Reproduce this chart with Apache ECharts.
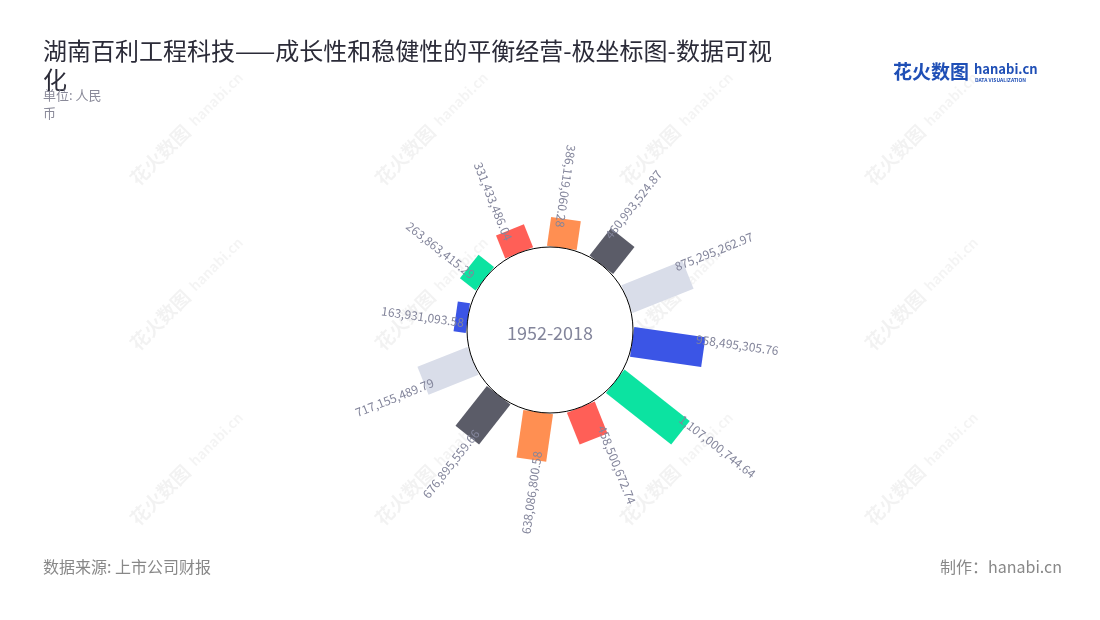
<!DOCTYPE html>
<html>
<head>
<meta charset="utf-8">
<script src="https://cdn.jsdelivr.net/npm/echarts@6/dist/echarts.min.js"></script>
<style>
html,body{margin:0;padding:0;background:#fff;}
#main{width:1100px;height:620px;}
</style>
</head>
<body>
<div id="main"></div>
<script>
// ---- data (counter-clockwise order, first bar upper right) ----
var categories = ['1','2','3','4','5','6','7','8','9','10','11','12'];
var values = [875295262.97, 460993524.87, 386119060.28, 331433486.04, 263863415.29, 163931093.58,
              717155489.79, 676895559.66, 638086800.58, 458500672.74, 1107000744.64, 958495305.76];
var palette = ['#d9dde9', '#5b5c68', '#ff8f52', '#ff5f57', '#0ce3a1', '#3b55e6'];
var titleText = '湖南百利工程科技——成长性和稳健性的平衡经营-极坐标图-数据可视化';
var unitText = '单位: 人民币';
var centerText = '1952-2018';
var sourceText = '数据来源: 上市公司财报';
var makerText = '制作：hanabi.cn';

var FONT = '"Noto Sans CJK SC", "Noto Sans", sans-serif';
var LABEL_COLOR = '#83859b';

function fmt(v) {
  return v.toLocaleString('en-US', {minimumFractionDigits: 2, maximumFractionDigits: 2});
}

var seriesData = values.map(function (v, i) { return [v, i]; });

function renderItem(params, api) {
  var i = api.value(1);
  var v = api.value(0);
  var p0 = api.coord([0, i]);
  var p1 = api.coord([v, i]);
  var dx = p1[0] - p0[0], dy = p1[1] - p0[1];
  var len = Math.sqrt(dx * dx + dy * dy) || 1;
  var ux = dx / len, uy = dy / len;
  var nx = uy, ny = -ux; // counter-clockwise normal on screen
  var hw = 15;
  var pts = [
    [p0[0] + nx * hw, p0[1] + ny * hw],
    [p1[0] + nx * hw, p1[1] + ny * hw],
    [p1[0] - nx * hw, p1[1] - ny * hw],
    [p0[0] - nx * hw, p0[1] - ny * hw]
  ];
  var theta = Math.atan2(-uy, ux);
  var deg = theta * 180 / Math.PI;
  if (deg < 0) deg += 360;
  var flip = deg > 60 && deg < 270;
  var off = flip ? 5 : 12;
  var ax = p1[0] - ux * 9 + nx * off;
  var ay = p1[1] - uy * 9 + ny * off;
  return {
    type: 'group',
    children: [
      {
        type: 'polygon',
        shape: {points: pts},
        style: {fill: palette[i % palette.length]}
      },
      {
        type: 'text',
        x: ax, y: ay,
        rotation: flip ? theta - Math.PI : theta,
        style: {
          text: fmt(v),
          fill: LABEL_COLOR,
          font: '12px ' + FONT,
          align: flip ? 'right' : 'left',
          verticalAlign: 'middle'
        },
        z2: 10
      }
    ]
  };
}

// watermark
var wm = [];
var wmX = [160, 405, 650, 895];
var wmY = [155, 320, 495];
wmY.forEach(function (y) {
  wmX.forEach(function (x) {
    wm.push({
      type: 'text', x: x, y: y, rotation: Math.PI / 4, z: 0, silent: true,
      style: {text: '花火数图', fill: 'rgba(0,0,0,0.05)', font: 'bold 19px ' + FONT,
              align: 'center', verticalAlign: 'middle'}
    });
    wm.push({
      type: 'text', x: x + 56, y: y - 56, rotation: Math.PI / 4, z: 0, silent: true,
      style: {text: 'hanabi.cn', fill: 'rgba(0,0,0,0.045)', font: 'bold 14px ' + FONT,
              align: 'center', verticalAlign: 'middle'}
    });
  });
});

var chart = echarts.init(document.getElementById('main'));
chart.setOption({
  backgroundColor: '#fff',
  animation: false,
  title: [
    {
      text: titleText,
      left: 43, top: 36, padding: 0,
      textStyle: {fontFamily: FONT, fontSize: 24, fontWeight: 'normal', color: '#2b2b38',
                  width: 745, overflow: 'break', lineHeight: 29}
    },
    {
      text: unitText,
      left: 43, top: 86, padding: 0,
      textStyle: {fontFamily: FONT, fontSize: 13, fontWeight: 'normal', color: '#8a8a99',
                  width: 68, overflow: 'break', lineHeight: 18}
    }
  ],
  polar: {center: ['50%', 330], radius: [83, 173]},
  angleAxis: {type: 'category', data: categories, startAngle: 6.8, clockwise: false, show: false},
  radiusAxis: {type: 'value', min: 0, max: 1200000000, show: false},
  series: [{
    type: 'custom',
    coordinateSystem: 'polar',
    renderItem: renderItem,
    data: seriesData,
    z: 2
  }],
  graphic: wm.concat([
    {
      type: 'circle', shape: {cx: 550, cy: 330, r: 83}, z: 50,
      style: {fill: '#fff', stroke: '#000', lineWidth: 1}
    },
    {
      type: 'text', x: 550, y: 333, z: 51,
      style: {text: centerText, fill: LABEL_COLOR, font: '18px ' + FONT, align: 'center', verticalAlign: 'middle'}
    },
    {
      type: 'text', x: 43, y: 567, z: 51,
      style: {text: sourceText, fill: '#888', font: '16px ' + FONT, align: 'left', verticalAlign: 'middle'}
    },
    {
      type: 'text', x: 1062, y: 567, z: 51,
      style: {text: makerText, fill: '#888', font: '16px ' + FONT, align: 'right', verticalAlign: 'middle'}
    },
    {
      type: 'text', x: 893, y: 72, z: 51,
      style: {text: '花火数图', fill: '#1f4fb6', font: 'bold 19px ' + FONT, align: 'left', verticalAlign: 'middle'}
    },
    {
      type: 'text', x: 974, y: 69, z: 51,
      style: {text: 'hanabi.cn', fill: '#1f4fb6', font: 'bold 13px ' + FONT, align: 'left', verticalAlign: 'middle'}
    },
    {
      type: 'text', x: 975, y: 80, z: 51,
      style: {text: 'DATA VISUALIZATION', fill: '#1f4fb6', font: 'bold 5px ' + FONT, align: 'left', verticalAlign: 'middle'}
    }
  ])
});
</script>
</body>
</html>
